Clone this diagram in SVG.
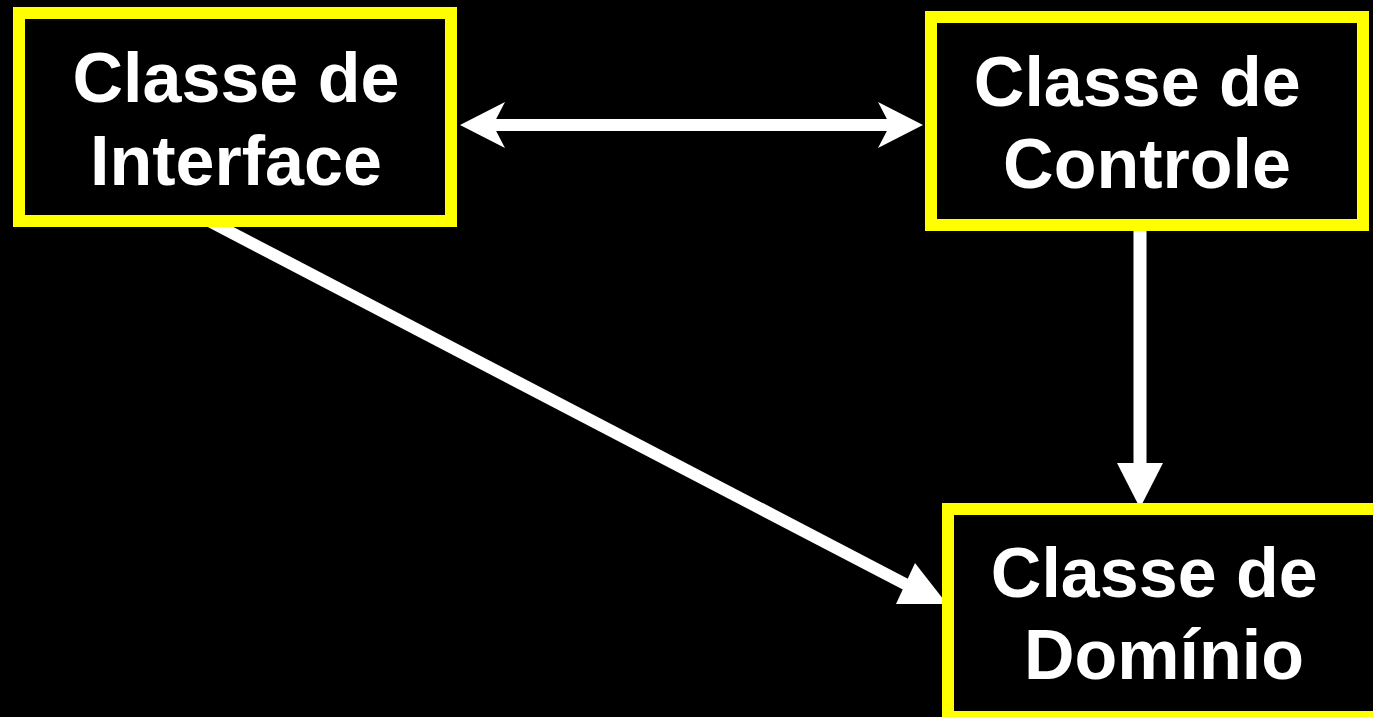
<svg xmlns="http://www.w3.org/2000/svg" width="1373" height="717" viewBox="0 0 1373 717">
<style>
.box{fill:#000;stroke:#ffff00;stroke-width:12}
.lbl{fill:#fff;font-family:"Liberation Sans",Arial,sans-serif;font-weight:bold;font-size:70px;text-anchor:middle}
.ln{stroke:#fff;stroke-width:12;fill:none}
.hd{fill:#fff;stroke:none}
</style>
<rect x="0" y="0" width="1373" height="717" fill="#000"/>
<g id="connectors">
<line class="ln" x1="492" y1="125" x2="891" y2="125"/>
<polygon class="hd" points="460,125 505,102 493,125 505,148"/>
<polygon class="hd" points="923,125 878,102 890,125 878,148"/>
<line class="ln" x1="1140" y1="221" x2="1140" y2="465" style="stroke-width:13"/>
<polygon class="hd" points="1117,463 1163,463 1140,508"/>
<line class="ln" x1="211" y1="222" x2="907" y2="585"/>
<polygon class="hd" points="915,563 947,604 896,604"/>
</g>
<g id="interface">
<rect class="box" x="19" y="13" width="432" height="208"/>
<text class="lbl" x="236" y="102">Classe de</text>
<text class="lbl" x="236" y="185">Interface</text>
</g>
<g id="controle">
<rect class="box" x="931" y="17" width="432" height="208"/>
<text class="lbl" x="1147" y="106" xml:space="preserve">Classe de </text>
<text class="lbl" x="1147" y="188">Controle</text>
</g>
<g id="dominio">
<rect class="box" x="948" y="509" width="432" height="208"/>
<text class="lbl" x="1164" y="597" xml:space="preserve">Classe de </text>
<text class="lbl" x="1164" y="679">Domínio</text>
</g>
</svg>
